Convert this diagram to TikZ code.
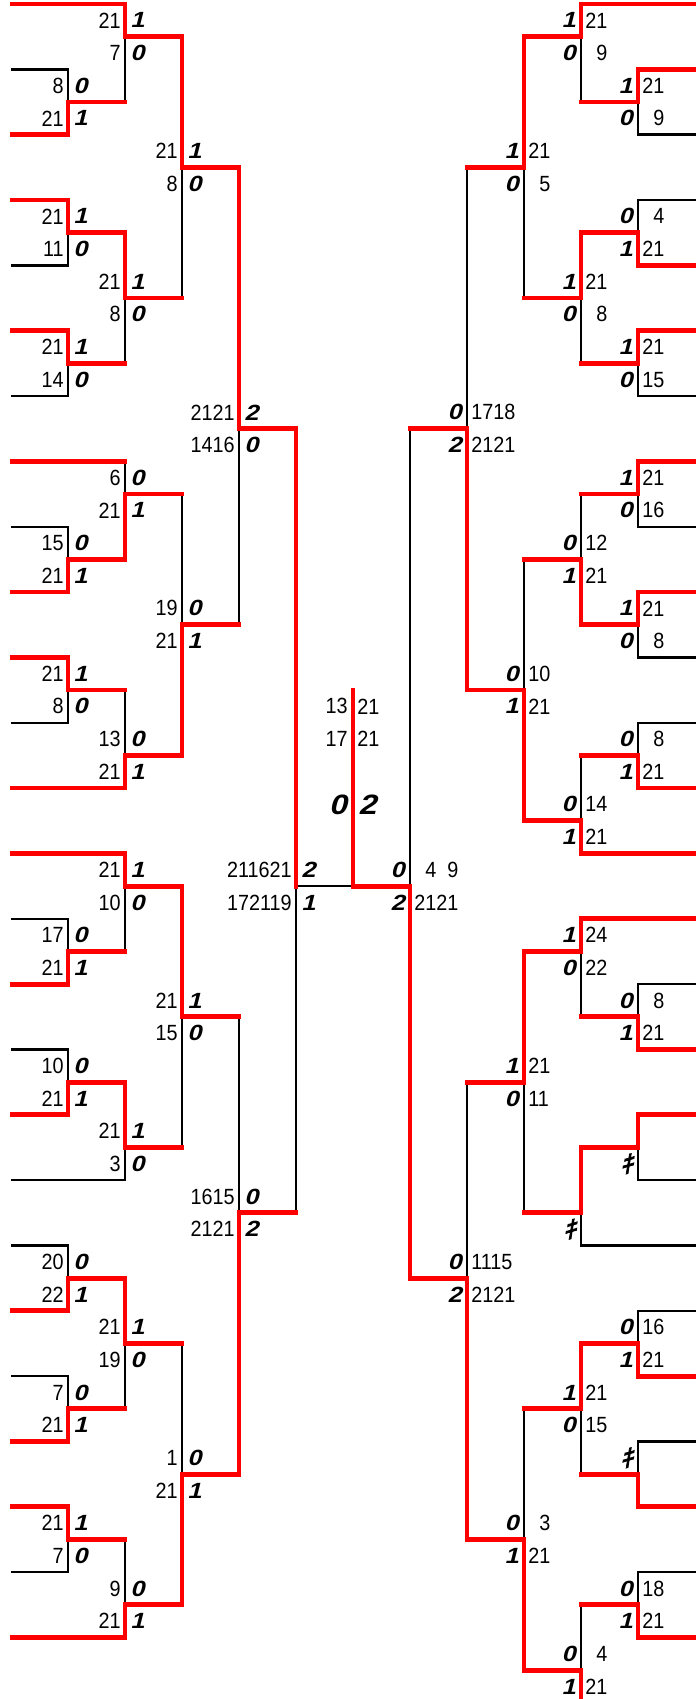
\documentclass[tikz,border=0pt]{standalone}
\usepackage{fontspec}
\setmainfont{Liberation Sans}
\newfontfamily\scorefont[FakeStretch=0.9]{Liberation Sans}
\newfontfamily\setsfont[FakeSlant=0.25,FakeStretch=1.15]{Liberation Sans}
\newfontfamily\kifont[FakeSlant=0.25,FakeBold=3]{Noto Sans CJK JP}
\usepackage{xcolor}
\pgfdeclarelayer{bg}
\pgfsetlayers{bg,main}
\tikzset{every picture/.style={line width=0.75pt},
  win/.style={draw=red,line width=3.6pt,line cap=rect},
  lose/.style={draw=black,line width=1.8pt,line cap=rect},
  score/.style={inner sep=0pt,font=\scorefont\fontsize{16.5}{17}\selectfont},
  sets/.style={inner sep=0pt,font=\setsfont\bfseries\fontsize{16.5}{17}\selectfont},
  bigsets/.style={inner sep=0pt,font=\setsfont\bfseries\fontsize{21}{23}\selectfont},
  kiken/.style={inner sep=0pt,font=\kifont\fontsize{19}{21}\selectfont}}

% row -> y (px)
\newcommand{\yr}[1]{4+32.67*(#1)}
\newcommand{\pz}{\phantom{0}}
% one line piece: w = red (winner), l = black (loser)
\newcommand{\drawseg}[3]{\if#1w\draw[win] #2 -- #3;\else\begin{pgfonlayer}{bg}\draw[lose] #2 -- #3;\end{pgfonlayer}\fi}
% entry lines
\newcommand{\leafL}[3]{\drawseg{#1}{(12,{\yr{#2}})}{(#3,{\yr{#2}})}}
\newcommand{\leafR}[3]{\drawseg{#1}{(#3,{\yr{#2}})}{(696,{\yr{#2}})}}
% game: x, top row, out row, bottom row, winner t/b, output dx
\newcommand{\game}[6]{%
  \if#5t\drawseg{w}{(#1,{\yr{#2}})}{(#1,{\yr{#3}})}\drawseg{l}{(#1,{\yr{#3}})}{(#1,{\yr{#4}})}%
  \else\drawseg{l}{(#1,{\yr{#2}})}{(#1,{\yr{#3}})}\drawseg{w}{(#1,{\yr{#3}})}{(#1,{\yr{#4}})}\fi
  \draw[win] (#1,{\yr{#3}}) -- ++(#6,0);}
% scores: left half (score | sets), right half (sets | score)
\newcommand{\labL}[4]{%
  \node[score,anchor=east] (s#1r#2) at ({#1-4},{\yr{#2}}) {#3};
  \node[sets,anchor=west] (g#1r#2) at ({#1+5},{\yr{#2}}) {#4};}
\newcommand{\labR}[4]{%
  \node[sets,anchor=east] (g#1r#2) at ({#1-5},{\yr{#2}}) {#3};
  \node[score,anchor=west] (s#1r#2) at ({#1+4},{\yr{#2}}) {#4};}
\newcommand{\kiR}[2]{\node[kiken,anchor=east] (k#1r#2) at ({#1-5},{\yr{#2}}) {ｷ};}

\begin{document}
\begin{tikzpicture}[x=0.75pt,y=0.75pt,yscale=-1,xscale=1]
\useasboundingbox (0,0) rectangle (696,1699);

%Left block, upper
\leafL{w}{0}{125}
\leafL{l}{2}{68}
\leafL{w}{4}{68}
\leafL{w}{6}{68}
\leafL{l}{8}{68}
\leafL{w}{10}{68}
\leafL{l}{12}{68}
\leafL{w}{14}{125}
\leafL{l}{16}{68}
\leafL{w}{18}{68}
\leafL{w}{20}{68}
\leafL{l}{22}{68}
\leafL{w}{24}{125}
\game{68}{2}{3}{4}{b}{57}
\game{125}{0}{1}{3}{t}{57}
\game{68}{6}{7}{8}{t}{57}
\game{68}{10}{11}{12}{t}{57}
\game{125}{7}{9}{11}{t}{57}
\game{182}{1}{5}{9}{t}{57}
\game{68}{16}{17}{18}{b}{57}
\game{125}{14}{15}{17}{b}{57}
\game{68}{20}{21}{22}{t}{57}
\game{125}{21}{23}{24}{b}{57}
\game{182}{15}{19}{23}{b}{57}
\game{239}{5}{13}{19}{t}{57}
\labL{125}{0.5}{21}{1}  \labL{125}{1.5}{7}{0}
\labL{68}{2.5}{8}{0}    \labL{68}{3.5}{21}{1}
\labL{182}{4.5}{21}{1}  \labL{182}{5.5}{8}{0}
\labL{68}{6.5}{21}{1}   \labL{68}{7.5}{11}{0}
\labL{125}{8.5}{21}{1}  \labL{125}{9.5}{8}{0}
\labL{68}{10.5}{21}{1}  \labL{68}{11.5}{14}{0}
\labL{239}{12.5}{2121}{2} \labL{239}{13.5}{1416}{0}
\labL{125}{14.5}{6}{0}  \labL{125}{15.5}{21}{1}
\labL{68}{16.5}{15}{0}  \labL{68}{17.5}{21}{1}
\labL{182}{18.5}{19}{0} \labL{182}{19.5}{21}{1}
\labL{68}{20.5}{21}{1}  \labL{68}{21.5}{8}{0}
\labL{125}{22.5}{13}{0} \labL{125}{23.5}{21}{1}

%Left block, lower
\leafL{w}{26}{125}
\leafL{l}{28}{68}
\leafL{w}{30}{68}
\leafL{l}{32}{68}
\leafL{w}{34}{68}
\leafL{l}{36}{125}
\leafL{l}{38}{68}
\leafL{w}{40}{68}
\leafL{l}{42}{68}
\leafL{w}{44}{68}
\leafL{w}{46}{68}
\leafL{l}{48}{68}
\leafL{w}{50}{125}
\game{68}{28}{29}{30}{b}{57}
\game{125}{26}{27}{29}{t}{57}
\game{68}{32}{33}{34}{b}{57}
\game{125}{33}{35}{36}{t}{57}
\game{182}{27}{31}{35}{t}{57}
\game{68}{38}{39}{40}{b}{57}
\game{68}{42}{43}{44}{b}{57}
\game{125}{39}{41}{43}{t}{57}
\game{68}{46}{47}{48}{t}{57}
\game{125}{47}{49}{50}{b}{57}
\game{182}{41}{45}{49}{b}{57}
\game{239}{31}{37}{45}{b}{57}
\labL{125}{26.5}{21}{1} \labL{125}{27.5}{10}{0}
\labL{68}{28.5}{17}{0}  \labL{68}{29.5}{21}{1}
\labL{182}{30.5}{21}{1} \labL{182}{31.5}{15}{0}
\labL{68}{32.5}{10}{0}  \labL{68}{33.5}{21}{1}
\labL{125}{34.5}{21}{1} \labL{125}{35.5}{3}{0}
\labL{239}{36.5}{1615}{0} \labL{239}{37.5}{2121}{2}
\labL{68}{38.5}{20}{0}  \labL{68}{39.5}{22}{1}
\labL{125}{40.5}{21}{1} \labL{125}{41.5}{19}{0}
\labL{68}{42.5}{7}{0}   \labL{68}{43.5}{21}{1}
\labL{182}{44.5}{1}{0}  \labL{182}{45.5}{21}{1}
\labL{68}{46.5}{21}{1}  \labL{68}{47.5}{7}{0}
\labL{125}{48.5}{9}{0}  \labL{125}{49.5}{21}{1}

%Right block, upper
\leafR{w}{0}{581}
\leafR{w}{2}{638}
\leafR{l}{4}{638}
\leafR{l}{6}{638}
\leafR{w}{8}{638}
\leafR{w}{10}{638}
\leafR{l}{12}{638}
\leafR{w}{14}{638}
\leafR{l}{16}{638}
\leafR{w}{18}{638}
\leafR{l}{20}{638}
\leafR{l}{22}{638}
\leafR{w}{24}{638}
\leafR{w}{26}{581}
\game{638}{2}{3}{4}{t}{-57}
\game{581}{0}{1}{3}{t}{-57}
\game{638}{6}{7}{8}{b}{-57}
\game{638}{10}{11}{12}{t}{-57}
\game{581}{7}{9}{11}{t}{-57}
\game{524}{1}{5}{9}{t}{-57}
\game{638}{14}{15}{16}{t}{-57}
\game{638}{18}{19}{20}{t}{-57}
\game{581}{15}{17}{19}{b}{-57}
\game{638}{22}{23}{24}{b}{-57}
\game{581}{23}{25}{26}{b}{-57}
\game{524}{17}{21}{25}{b}{-57}
\game{467}{5}{13}{21}{b}{-57}
\labR{581}{0.5}{1}{21}  \labR{581}{1.5}{0}{\pz9}
\labR{638}{2.5}{1}{21}  \labR{638}{3.5}{0}{\pz9}
\labR{524}{4.5}{1}{21}  \labR{524}{5.5}{0}{\pz5}
\labR{638}{6.5}{0}{\pz4} \labR{638}{7.5}{1}{21}
\labR{581}{8.5}{1}{21}  \labR{581}{9.5}{0}{\pz8}
\labR{638}{10.5}{1}{21} \labR{638}{11.5}{0}{15}
\labR{467}{12.5}{0}{1718} \labR{467}{13.5}{2}{2121}
\labR{638}{14.5}{1}{21} \labR{638}{15.5}{0}{16}
\labR{581}{16.5}{0}{12} \labR{581}{17.5}{1}{21}
\labR{638}{18.5}{1}{21} \labR{638}{19.5}{0}{\pz8}
\labR{524}{20.5}{0}{10} \labR{524}{21.5}{1}{21}
\labR{638}{22.5}{0}{\pz8} \labR{638}{23.5}{1}{21}
\labR{581}{24.5}{0}{14} \labR{581}{25.5}{1}{21}

%Right block, lower
\leafR{w}{28}{581}
\leafR{l}{30}{638}
\leafR{w}{32}{638}
\leafR{w}{34}{638}
\leafR{l}{36}{638}
\leafR{l}{38}{581}
\leafR{l}{40}{638}
\leafR{w}{42}{638}
\leafR{l}{44}{638}
\leafR{w}{46}{638}
\leafR{l}{48}{638}
\leafR{w}{50}{638}
\leafR{w}{52}{581}
\game{638}{30}{31}{32}{b}{-57}
\game{581}{28}{29}{31}{t}{-57}
\game{638}{34}{35}{36}{t}{-57}
\game{581}{35}{37}{38}{t}{-57}
\game{524}{29}{33}{37}{t}{-57}
\game{638}{40}{41}{42}{b}{-57}
\game{638}{44}{45}{46}{b}{-57}
\game{581}{41}{43}{45}{t}{-57}
\game{638}{48}{49}{50}{b}{-57}
\game{581}{49}{51}{52}{b}{-57}
\game{524}{43}{47}{51}{b}{-57}
\game{467}{33}{39}{47}{b}{-57}
\labR{581}{28.5}{1}{24} \labR{581}{29.5}{0}{22}
\labR{638}{30.5}{0}{\pz8} \labR{638}{31.5}{1}{21}
\labR{524}{32.5}{1}{21} \labR{524}{33.5}{0}{11}
\kiR{638}{35.5}
\kiR{581}{37.5}
\labR{467}{38.5}{0}{1115} \labR{467}{39.5}{2}{2121}
\labR{638}{40.5}{0}{16} \labR{638}{41.5}{1}{21}
\labR{581}{42.5}{1}{21} \labR{581}{43.5}{0}{15}
\kiR{638}{44.5}
\labR{524}{46.5}{0}{\pz3} \labR{524}{47.5}{1}{21}
\labR{638}{48.5}{0}{18} \labR{638}{49.5}{1}{21}
\labR{581}{50.5}{0}{\pz4} \labR{581}{51.5}{1}{21}

%Semifinals
\drawseg{w}{(296,{\yr{13}})}{(296,{\yr{27}})}
\drawseg{l}{(296,{\yr{27}})}{(296,{\yr{37}})}
\drawseg{l}{(410,{\yr{13}})}{(410,{\yr{27}})}
\drawseg{w}{(410,{\yr{27}})}{(410,{\yr{39}})}
\labL{296}{26.5}{211621}{2} \labL{296}{27.5}{172119}{1}
\labR{410}{26.5}{0}{\pz4\pz9} \labR{410}{27.5}{2}{2121}

%Final
\drawseg{l}{(296,{\yr{27}})}{(353,{\yr{27}})}
\drawseg{w}{(353,{\yr{27}})}{(410,{\yr{27}})}
\drawseg{w}{(353,{\yr{27}})}{(353,{\yr{21}})}
\node[score,anchor=east] (fl1) at (348,{\yr{21.5}}) {13};
\node[score,anchor=west] (fr1) at (357,{\yr{21.5}}) {21};
\node[score,anchor=east] (fl2) at (348,{\yr{22.5}}) {17};
\node[score,anchor=west] (fr2) at (357,{\yr{22.5}}) {21};
\node[bigsets,anchor=east] (fl3) at (347,{\yr{24.5}}) {0};
\node[bigsets,anchor=west] (fr3) at (358,{\yr{24.5}}) {2};

\end{tikzpicture}
\end{document}
